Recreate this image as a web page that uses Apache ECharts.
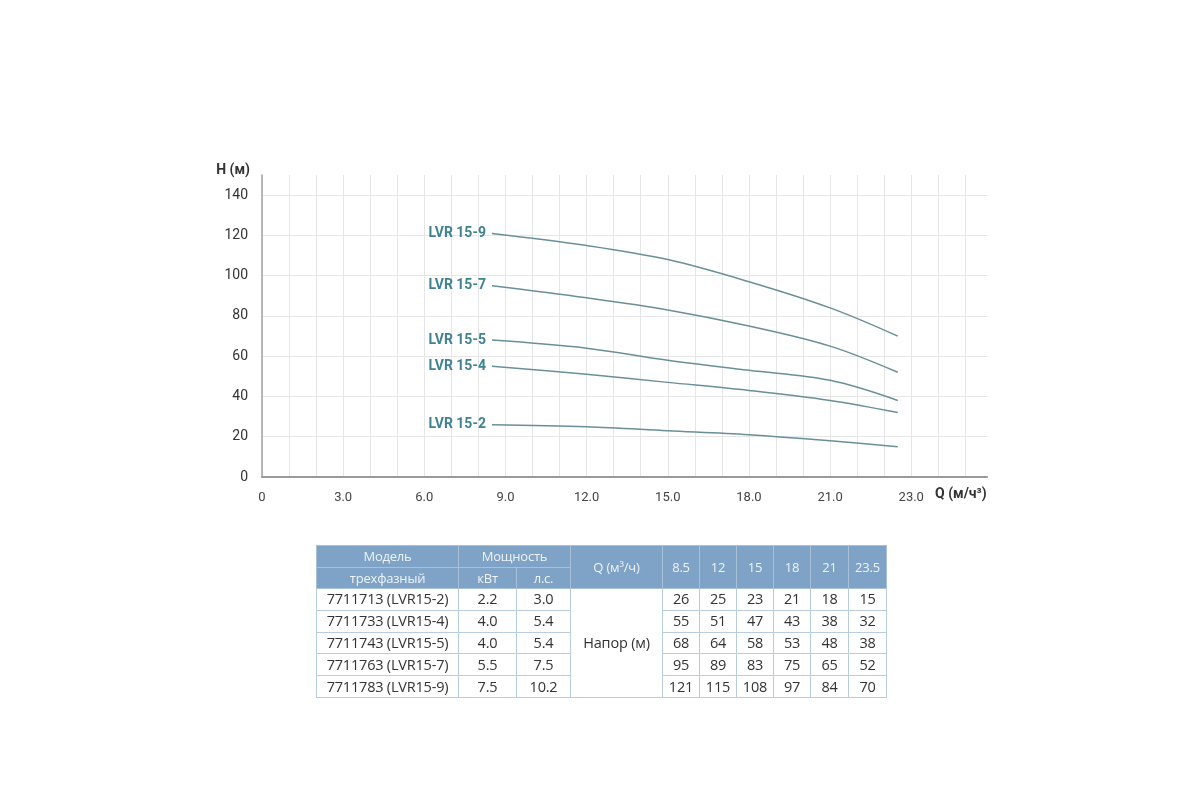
<!DOCTYPE html>
<html>
<head>
<meta charset="utf-8">
<script src="https://cdn.jsdelivr.net/npm/echarts@6/dist/echarts.min.js"></script>
<style>
    html, body { margin: 0; padding: 0; background: #fff; }
    #chart { position: absolute; left: 0; top: 0; width: 1200px; height: 800px; }
    #tbl { position: absolute; left: 316px; top: 545px; border-collapse: collapse;
        font-family: "Open Sans", sans-serif; font-size: 14.5px; color: #333; letter-spacing: -0.2px; }
    #tbl td { border: 1px solid #b9cde0; text-align: center; padding: 0; height: 20.8px; line-height: 18px; }
    #tbl tr.h td { background: #7fa3c6; color: #eef3f8; height: 20.5px; border-color: #a9c1d8; font-size: 13px; }
</style>
</head>
<body>
<div id="chart"></div>
<table id="tbl"></table>
<script>
// pump curves, Q points from the table
var flow = [8.5, 12, 15, 18, 21, 23.5];
var models = ['LVR 15-2', 'LVR 15-4', 'LVR 15-5', 'LVR 15-7', 'LVR 15-9'];
var articles = ['7711713 (LVR15-2)', '7711733 (LVR15-4)', '7711743 (LVR15-5)', '7711763 (LVR15-7)', '7711783 (LVR15-9)'];
var powerKw = ['2.2', '4.0', '4.0', '5.5', '7.5'];
var powerHp = ['3.0', '5.4', '5.4', '7.5', '10.2'];
var head152 = [26, 25, 23, 21, 18, 15];
var head154 = [55, 51, 47, 43, 38, 32];
var head155 = [68, 64, 58, 53, 48, 38];
var head157 = [95, 89, 83, 75, 65, 52];
var head159 = [121, 115, 108, 97, 84, 70];
var heads = [head152, head154, head155, head157, head159];
var xTickLabels = ['0', '3.0', '6.0', '9.0', '12.0', '15.0', '18.0', '21.0', '23.0'];

var myChart = echarts.init(document.getElementById('chart'));

var series = [];
for (var i = 0; i < models.length; i++) {
    var pts = [];
    for (var j = 0; j < flow.length; j++) {
        var item = {value: [flow[j], heads[i][j]]};
        if (j == 0) {
            item.label = {
                show: true, position: 'left', distance: 6,
                formatter: models[i],
                color: '#3f8290', fontWeight: 'bold', fontSize: 14,
                fontFamily: 'Roboto'
            };
        }
        pts.push(item);
    }
    series.push({
        type: 'line',
        smooth: 0.35,
        symbol: 'circle',
        symbolSize: 0,
        showSymbol: true,
        lineStyle: {color: '#6a8f99', width: 1.5},
        itemStyle: {color: '#6a8f99'},
        data: pts,
        silent: true
    });
}

var option = {
    animation: false,
    grid: {left: 262, right: 213, top: 175, bottom: 323},
    xAxis: {
        type: 'value', min: 0, max: 26.8, interval: 1,
        axisLine: {lineStyle: {color: '#9a9a9a', width: 2}},
        axisTick: {show: false},
        splitLine: {showMaxLine: false, lineStyle: {color: '#e6e6e6'}},
        axisLabel: {
            color: '#444', fontSize: 13, fontFamily: 'Roboto', margin: 14,
            showMaxLabel: false,
            formatter: function (v) {
                if (v % 3 != 0) return '';
                return xTickLabels[v / 3] || '';
            }
        }
    },
    yAxis: {
        type: 'value', min: 0, max: 150, interval: 20,
        name: 'H (м)', nameGap: -2,
        nameTextStyle: {color: '#333', fontWeight: 'bold', fontSize: 14, fontFamily: 'Roboto', align: 'right', padding: [0, 12, 0, 0]},
        axisLine: {show: true, lineStyle: {color: '#a0a0a0', width: 1.5}},
        axisTick: {show: false},
        splitLine: {showMaxLine: false, lineStyle: {color: '#e6e6e6'}},
        axisLabel: {color: '#333', fontSize: 14, fontFamily: 'Roboto', margin: 14, showMaxLabel: false}
    },
    graphic: [{
        type: 'text', left: 935, top: 487,
        style: {text: 'Q (м/ч³)', fill: '#333', font: 'bold 14px Roboto'}
    }],
    series: series
};
myChart.setOption(option);

// table
var tbl = document.getElementById('tbl');
var html = '';
html += '<tr class="h"><td style="width:141px">Модель</td><td colspan="2">Мощность</td>' +
    '<td rowspan="2" style="width:91px">Q (м³/ч)</td>';
for (var k = 0; k < flow.length; k++) {
    html += '<td rowspan="2" style="width:' + (k < 4 ? 36 : 37) + 'px">' + flow[k] + '</td>';
}
html += '</tr>';
html += '<tr class="h"><td>трехфазный</td><td style="width:57px">кВт</td><td style="width:53px">л.с.</td></tr>';
for (var r = 0; r < articles.length; r++) {
    html += '<tr><td>' + articles[r] + '</td><td>' + powerKw[r] + '</td><td>' + powerHp[r] + '</td>';
    if (r == 0) html += '<td rowspan="5">Напор (м)</td>';
    for (var c = 0; c < flow.length; c++) {
        html += '<td>' + heads[r][c] + '</td>';
    }
    html += '</tr>';
}
tbl.innerHTML = html;
</script>
</body>
</html>
